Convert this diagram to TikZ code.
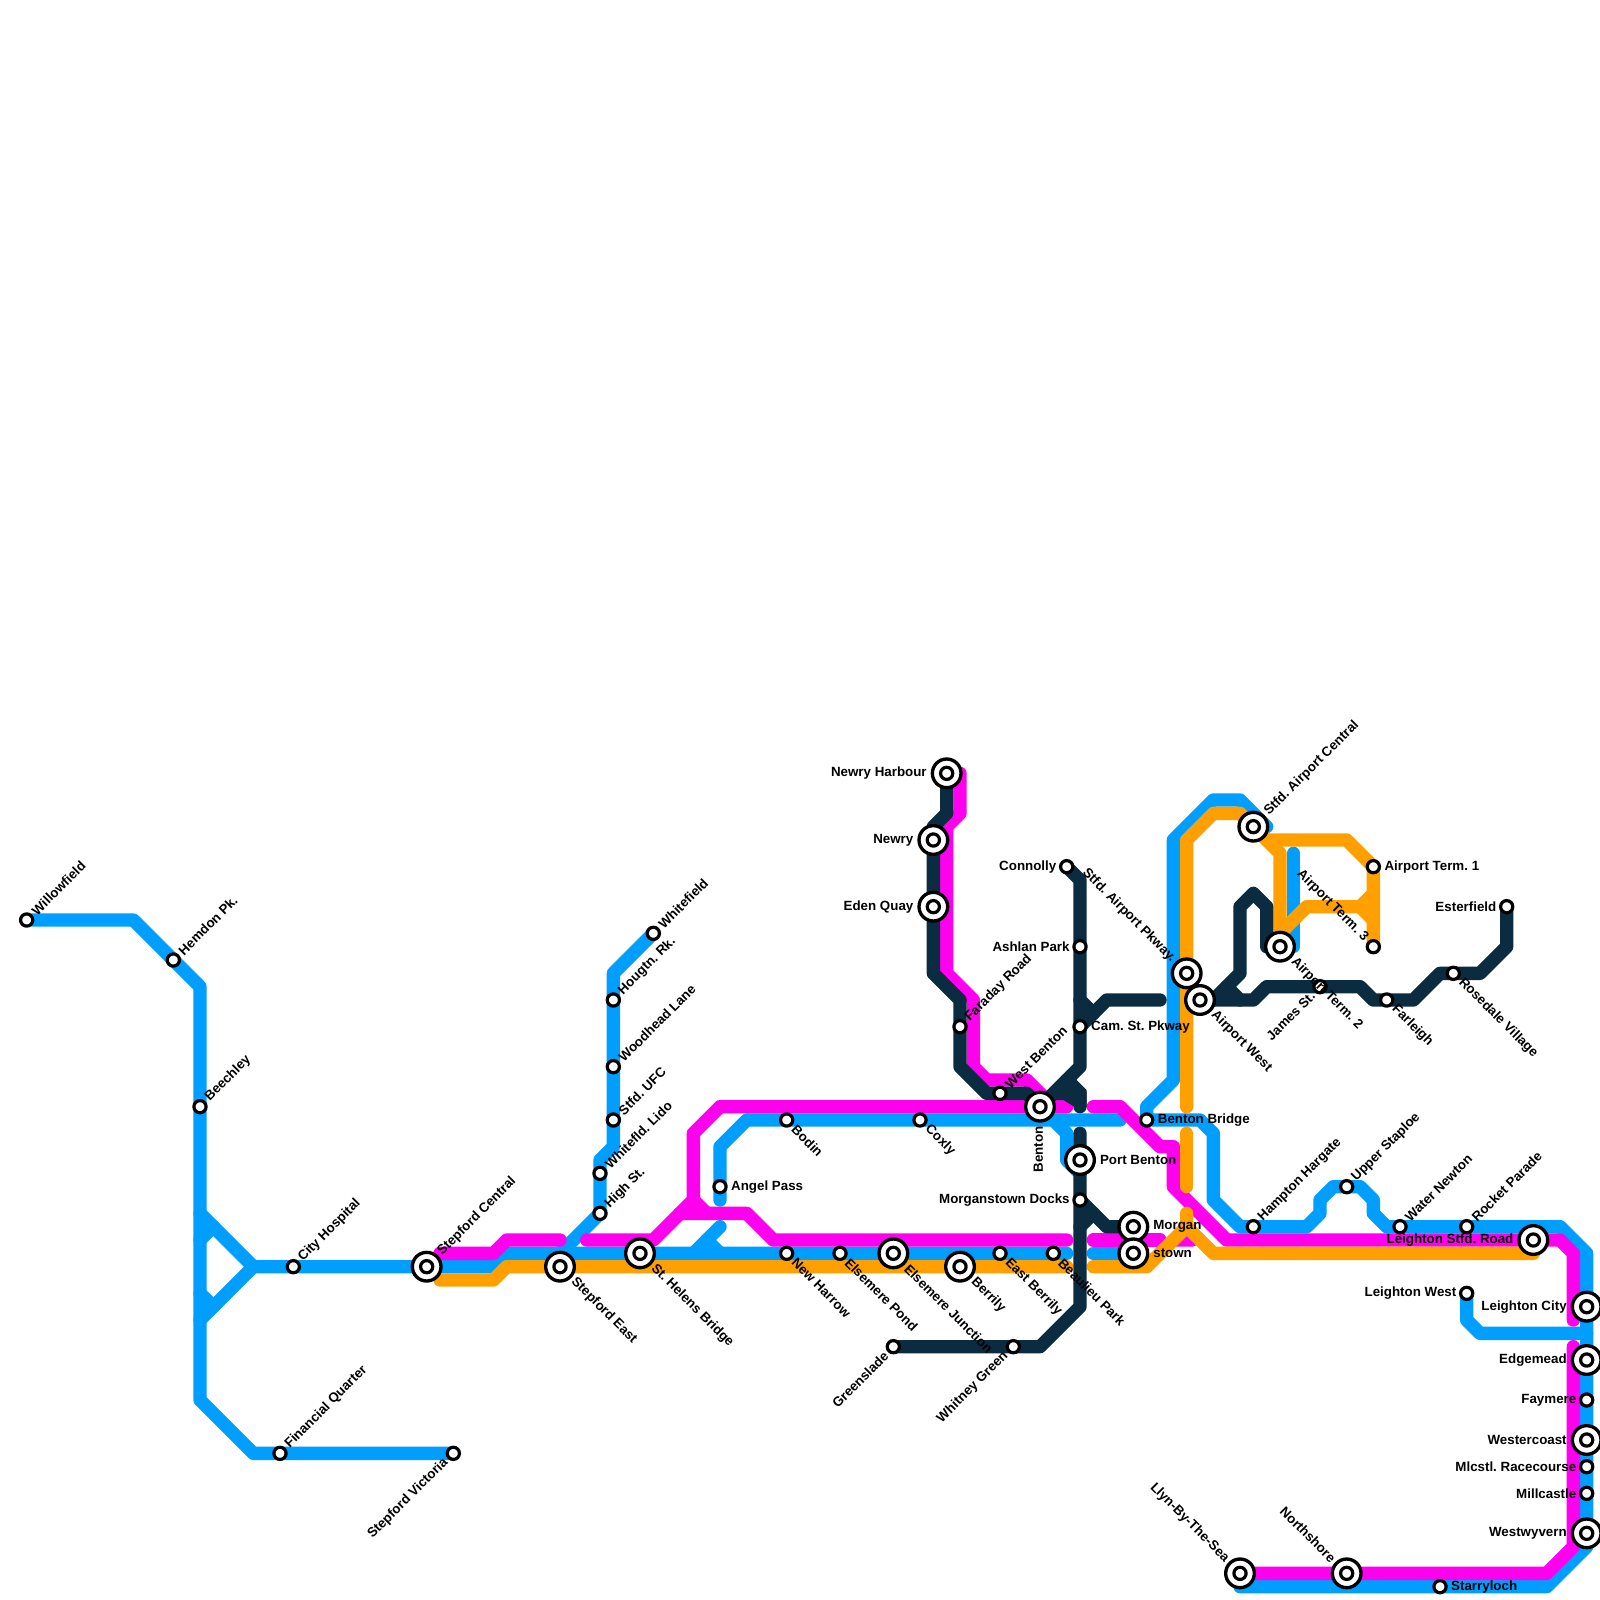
\documentclass[tikz,border=0pt]{standalone}
\usepackage{fontspec}
\setmainfont{Liberation Sans}
\definecolor{lblue}{HTML}{009EFF}
\definecolor{lmag}{HTML}{FF00EE}
\definecolor{lora}{HTML}{FFA000}
\definecolor{ldark}{HTML}{0A2B40}
\tikzset{
  tline/.style={line width=6.67pt,line cap=round,line join=round},
  bl/.style={tline,draw=lblue},
  mg/.style={tline,draw=lmag},
  og/.style={tline,draw=lora},
  dk/.style={tline,draw=ldark},
  smallst/.style={circle,draw=black,fill=white,line width=1.6pt,minimum size=6.1pt,inner sep=0pt,outer sep=0pt},
  bigst/.style={circle,draw=black,fill=white,line width=1.67pt,minimum size=14.33pt,inner sep=0pt,outer sep=0pt},
  lab/.style={font=\fontsize{6.67pt}{8pt}\selectfont\bfseries\frenchspacing,inner sep=0pt,outer sep=0pt,text=black},
  urs/.style={lab,rotate=45,anchor=west,xshift=5.2pt},
  urb/.style={lab,rotate=45,anchor=west,xshift=9.4pt},
  drs/.style={lab,rotate=-45,anchor=west,xshift=5.2pt},
  drb/.style={lab,rotate=-45,anchor=west,xshift=9.4pt},
  lds/.style={lab,rotate=45,anchor=east,xshift=-5.2pt},
  uls/.style={lab,rotate=-45,anchor=east,xshift=-5.2pt},
  ulb/.style={lab,rotate=-45,anchor=east,xshift=-9.4pt},
  rs/.style={lab,anchor=west,xshift=5.6pt},
  rb/.style={lab,anchor=west,xshift=10pt},
  ls/.style={lab,anchor=east,xshift=-5.2pt},
  lb/.style={lab,anchor=east,xshift=-10pt},
}
\newcommand{\stS}[2]{\node[smallst] (#1) at (#2) {};}
\newcommand{\stB}[2]{\node[bigst] (#1) at (#2) {}; \node[smallst] (#1i) at (#2) {};}
\begin{document}
\begin{tikzpicture}[x=0.5pt,y=-0.5pt]
\useasboundingbox (0,0) rectangle (1600,1600);
% ---- blue
\draw[bl] (26.67,920) -- (133.33,920) -- (200,986.67) -- (200,1400) -- (253.33,1453.33) -- (453.33,1453.33);
\draw[bl] (200,1213.33) -- (253.33,1266.67) -- (200,1320);
\draw[bl] (200,1240) -- (213.33,1226.67);
\draw[bl] (200,1293.33) -- (213.33,1306.67);
\draw[bl] (253.33,1266.67) -- (493.33,1266.67) -- (506.67,1253.33) -- (1066.67,1253.33);
\draw[bl] (653.33,933.33) -- (613.33,973.33) -- (613.33,1146.67) -- (600,1160) -- (600,1213.33) -- (560,1253.33);
\draw[bl] (720,1200) -- (720,1146.67) -- (746.67,1120) -- (1120,1120);
\draw[bl] (720,1226.67) -- (693.33,1253.33);
\draw[bl] (706.67,1240) -- (720,1253.33);
\draw[bl] (1053.33,1120) -- (1066.67,1133.33) -- (1066.67,1160) -- (1080,1173.33);
\draw[bl] (1093.33,1253.33) -- (1133.33,1253.33);
\draw[bl] (1266.67,826.67) -- (1240,800) -- (1213.33,800) -- (1173.33,840) -- (1173.33,1080) -- (1146.67,1106.67) -- (1146.67,1120) -- (1200,1120) -- (1213.33,1133.33) -- (1213.33,1200) -- (1240,1226.67) -- (1306.67,1226.67) -- (1320,1213.33) -- (1320,1200) -- (1333.33,1186.67) -- (1360,1186.67) -- (1373.33,1200) -- (1373.33,1213.33) -- (1386.67,1226.67) -- (1560,1226.67) -- (1586.67,1253.33) -- (1586.67,1546.67) -- (1546.67,1586.67) -- (1240,1586.67);
\draw[bl] (1466.67,1293.33) -- (1466.67,1320) -- (1480,1333.33) -- (1586.67,1333.33);
\draw[bl] (1293.33,853.33) -- (1293.33,946.67) -- (1280,946.67);
% ---- magenta
\draw[mg] (440,1253.33) -- (493.33,1253.33) -- (506.67,1240) -- (560,1240);
\draw[mg] (586.67,1240) -- (653.33,1240) -- (693.33,1200) -- (693.33,1133.33) -- (720,1106.67) -- (1066.67,1106.67);
\draw[mg] (680,1213.33) -- (746.67,1213.33) -- (773.33,1240) -- (1066.67,1240);
\draw[mg] (693.33,1200) -- (706.67,1213.33);
\draw[mg] (1093.33,1106.67) -- (1120,1106.67) -- (1160,1146.67) -- (1173.33,1146.67) -- (1173.33,1186.67) -- (1226.67,1240) -- (1560,1240) -- (1573.33,1253.33) -- (1573.33,1320);
\draw[mg] (1573.33,1346.67) -- (1573.33,1546.67) -- (1546.67,1573.33) -- (1240,1573.33);
\draw[mg] (960,773.33) -- (960,813.33) -- (946.67,826.67) -- (946.67,973.33) -- (973.33,1000) -- (973.33,1066.67) -- (986.67,1080) -- (1026.67,1080) -- (1053.33,1106.67);
\draw[mg] (1093.33,1240) -- (1160,1240);
\draw[mg] (1175,1240) -- (1186.67,1228) -- (1192,1240) -- cycle;
% ---- orange
\draw[og] (440,1280) -- (493.33,1280) -- (506.67,1266.67) -- (1066.67,1266.67);
\draw[og] (1093.33,1266.67) -- (1146.67,1266.67) -- (1186.67,1226.67) -- (1186.67,1213.33);
\draw[og] (1186.67,1226.67) -- (1213.33,1253.33) -- (1533.33,1253.33);
\draw[og] (1186.67,1133.33) -- (1186.67,1186.67);
\draw[og] (1186.67,1106.67) -- (1186.67,840) -- (1213.33,813.33) -- (1240,813.33) -- (1266.67,840) -- (1346.67,840) -- (1373.33,866.67) -- (1373.33,946.67);
\draw[og] (1266.67,840) -- (1280,853.33) -- (1280,946.67);
\draw[og] (1280,933.33) -- (1306.67,906.67) -- (1360,906.67) -- (1373.33,893.33);
\draw[og] (1360,906.67) -- (1373.33,920);
% ---- dark
\draw[dk] (946.67,773.33) -- (946.67,813.33) -- (933.33,826.67) -- (933.33,973.33) -- (960,1000) -- (960,1066.67) -- (986.67,1093.33) -- (1026.67,1093.33) -- (1040,1106.67);
\draw[dk] (1066.67,866.67) -- (1080,880) -- (1080,1066.67) -- (1040,1106.67);
\fill[ldark] (1046.67,1091.67) -- (1073.3,1065) -- (1076.67,1080) -- (1086.67,1090) -- (1086.67,1107) -- (1075,1107) -- (1063.3,1100) -- (1046.67,1100) -- cycle;
\draw[dk] (1066.67,1080) -- (1080,1093.33) -- (1080,1106.67);
\draw[dk] (1080,1133.33) -- (1080,1306.67) -- (1040,1346.67) -- (893.33,1346.67);
\draw[dk] (1080,1200) -- (1106.67,1226.67) -- (1133.33,1226.67);
\draw[dk] (1080,1226.67) -- (1093.33,1213.33);
\draw[dk] (1080,1026.67) -- (1106.67,1000) -- (1160,1000);
\draw[dk] (1080,1000) -- (1093.33,1013.33);
\draw[dk] (1200,1000) -- (1253.33,1000) -- (1266.67,986.67) -- (1360,986.67) -- (1373.33,1000) -- (1413.33,1000) -- (1440,973.33) -- (1480,973.33) -- (1506.67,946.67) -- (1506.67,906.67);
\draw[dk] (1213.33,1000) -- (1240,973.33) -- (1240,906.67) -- (1253.33,893.33) -- (1266.67,906.67) -- (1266.67,946.67) -- (1280,946.67);
\draw[dk] (1226.67,986.67) -- (1240,1000);
% ---- stations
\stS{willow}{26.67,920}
\stS{hemdon}{173.33,960}
\stS{beech}{200,1106.67}
\stS{cityh}{293.33,1266.67}
\stS{finq}{280,1453.33}
\stS{stepv}{453.33,1453.33}
\stS{whitef}{653.33,933.33}
\stS{hougt}{613.33,1000}
\stS{woodh}{613.33,1066.67}
\stS{ufc}{613.33,1120}
\stS{lido}{600,1173.33}
\stS{highst}{600,1213.33}
\stS{angel}{720,1186.67}
\stS{bodin}{786.67,1120}
\stS{coxly}{920,1120}
\stS{newh}{786.67,1253.33}
\stS{elsp}{840,1253.33}
\stS{eastb}{1000,1253.33}
\stS{beaul}{1053.33,1253.33}
\stS{green}{893.33,1346.67}
\stS{whitney}{1013.33,1346.67}
\stS{mdocks}{1080,1200}
\stS{farad}{960,1026.67}
\stS{westb}{1000,1093.33}
\stS{connolly}{1066.67,866.67}
\stS{ashlan}{1080,946.67}
\stS{camst}{1080,1026.67}
\stS{bbridge}{1146.67,1120}
\stS{hampton}{1253.33,1226.67}
\stS{upper}{1346.67,1186.67}
\stS{water}{1400,1226.67}
\stS{rocket}{1466.67,1226.67}
\stS{lwest}{1466.67,1293.33}
\stS{term1}{1373.33,866.67}
\stS{term3}{1373.33,946.67}
\stS{james}{1320,986.67}
\stS{farl}{1386.67,1000}
\stS{rose}{1453.33,973.33}
\stS{ester}{1506.67,906.67}
\stS{faym}{1586.67,1400}
\stS{mlc}{1586.67,1466.67}
\stS{millc}{1586.67,1493.33}
\stS{starry}{1440,1586.67}
\stB{stepc}{426.67,1266.67}
\stB{stepe}{560,1266.67}
\stB{sthel}{640,1253.33}
\stB{elsj}{893.33,1253.33}
\stB{berr}{960,1266.67}
\stB{benton}{1040,1106.67}
\stB{portb}{1080,1160}
\stB{morg}{1133.33,1226.67}
\stB{stown}{1133.33,1253.33}
\stB{newryh}{946.67,773.33}
\stB{newry}{933.33,840}
\stB{eden}{933.33,906.67}
\stB{pkway}{1186.67,973.33}
\stB{airw}{1200,1000}
\stB{airc}{1253.33,826.67}
\stB{term2}{1280,946.67}
\stB{lstfd}{1533.33,1240}
\stB{lcity}{1586.67,1306.67}
\stB{edge}{1586.67,1360}
\stB{westc}{1586.67,1440}
\stB{westw}{1586.67,1533.33}
\stB{llyn}{1240,1573.33}
\stB{north}{1346.67,1573.33}
% ---- labels
\node[urs] (t1) at (willow) {Willowfield};
\node[urs] (t2) at (hemdon) {Hemdon Pk.};
\node[urs] (t3) at (beech) {Beechley};
\node[urs] (t4) at (cityh) {City Hospital};
\node[urs] (t5) at (finq) {Financial Quarter};
\node[lds] (t6) at (stepv) {Stepford Victoria};
\node[urs] (t7) at (whitef) {Whitefield};
\node[urs] (t8) at (hougt) {Hougtn. Rk.};
\node[urs] (t9) at (woodh) {Woodhead Lane};
\node[urs] (t10) at (ufc) {Stfd. UFC};
\node[urs] (t11) at (lido) {Whitefld. Lido};
\node[urs] (t12) at (highst) {High St.};
\node[rs] (t13) at (angel) {Angel Pass};
\node[drs] (t14) at (bodin) {Bodin};
\node[drs] (t15) at (coxly) {Coxly};
\node[drs] (t16) at (newh) {New Harrow};
\node[drs] (t17) at (elsp) {Elsemere Pond};
\node[drs] (t18) at (eastb) {East Berrily};
\node[drs] (t19) at (beaul) {Beaulieu Park};
\node[lds] (t20) at (green) {Greenslade};
\node[lds] (t21) at (whitney) {Whitney Green};
\node[ls] (t22) at (mdocks) {Morganstown Docks};
\node[urs] (t23) at (farad) {Faraday Road};
\node[urs] (t24) at (westb) {West Benton};
\node[ls] (t25) at (connolly) {Connolly};
\node[ls] (t26) at (ashlan) {Ashlan Park};
\node[rs] (t27) at (camst) {Cam. St. Pkway};
\node[rs] (t28) at (bbridge) {Benton Bridge};
\node[urs] (t29) at (hampton) {Hampton Hargate};
\node[urs] (t30) at (upper) {Upper Staploe};
\node[urs] (t31) at (water) {Water Newton};
\node[urs] (t32) at (rocket) {Rocket Parade};
\node[ls] (t33) at (lwest) {Leighton West};
\node[rs] (t34) at (term1) {Airport Term. 1};
\node[uls] (t35) at (term3) {Airport Term. 3};
\node[lds] (t36) at (james) {James St.};
\node[drs] (t37) at (farl) {Farleigh};
\node[drs] (t38) at (rose) {Rosedale Village};
\node[ls] (t39) at (ester) {Esterfield};
\node[ls] (t40) at (faym) {Faymere};
\node[ls] (t41) at (mlc) {Mlcstl. Racecourse};
\node[ls] (t42) at (millc) {Millcastle};
\node[rs] (t43) at (starry) {Starryloch};
\node[urb] (t44) at (stepc) {Stepford Central};
\node[drb] (t45) at (stepe) {Stepford East};
\node[drb] (t46) at (sthel) {St. Helens Bridge};
\node[drb] (t47) at (elsj) {Elsemere Junction};
\node[drb] (t48) at (berr) {Berrily};
\node[lab,rotate=90,anchor=east,xshift=-10pt,yshift=0.8pt] (t49) at (benton) {Benton};
\node[rb] (t50) at (portb) {Port Benton};
\node[rb] (t51) at (morg) {Morgan};
\node[rb] (t52) at (stown) {stown};
\node[lb] (t53) at (newryh) {Newry Harbour};
\node[lb] (t54) at (newry) {Newry};
\node[lb] (t55) at (eden) {Eden Quay};
\node[ulb] (t56) at (pkway) {Stfd. Airport Pkway.};
\node[drb] (t57) at (airw) {Airport West};
\node[urb] (t58) at (airc) {Stfd. Airport Central};
\node[drb] (t59) at (term2) {Airport Term. 2};
\node[lb] (t60) at (lstfd) {Leighton Stfd. Road};
\node[lb] (t61) at (lcity) {Leighton City};
\node[lb] (t62) at (edge) {Edgemead};
\node[lb] (t63) at (westc) {Westercoast};
\node[lb] (t64) at (westw) {Westwyvern};
\node[ulb] (t65) at (llyn) {Llyn-By-The-Sea};
\node[ulb] (t66) at (north) {Northshore};
\end{tikzpicture}
\end{document}
